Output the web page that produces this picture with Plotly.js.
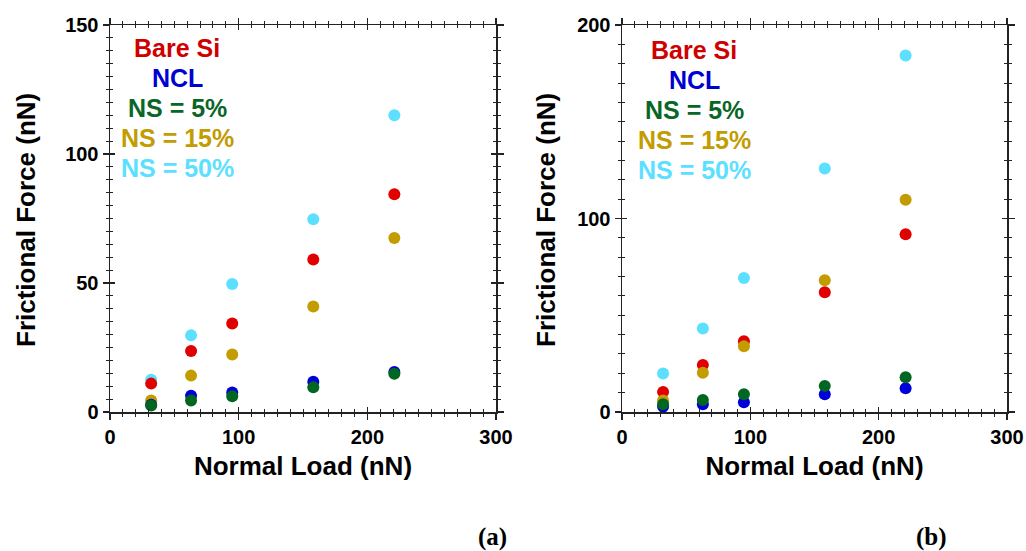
<!DOCTYPE html>
<html>
<head>
<meta charset="utf-8">
<script src="https://cdn.plot.ly/plotly-3.0.1.min.js"></script>
<style>html,body{margin:0;padding:0;background:#fff;}#chart{width:1026px;height:551px;}</style>
</head>
<body>
<div id="chart"></div>
<script>
// Normal load (nN)
const normalLoad = [32, 63, 95, 158, 221];

// Panel (a) frictional force (nN)
const aBareSi = [11.0, 23.6, 34.3, 59.1, 84.4];
const aNCL    = [2.8, 6.3, 7.6, 11.7, 15.5];
const aNS5    = [2.5, 4.5, 6.1, 9.6, 14.8];
const aNS15   = [4.5, 14.1, 22.3, 40.9, 67.4];
const aNS50   = [12.5, 29.7, 49.6, 74.7, 115.0];

// Panel (b) frictional force (nN)
const bBareSi = [10.4, 24.3, 36.6, 61.9, 91.9];
const bNCL    = [2.8, 4.0, 5.0, 9.2, 12.3];
const bNS5    = [4.0, 6.2, 9.2, 13.5, 18.0];
const bNS15   = [5.9, 20.3, 34.0, 68.1, 109.7];
const bNS50   = [19.9, 43.1, 69.3, 125.8, 184.2];

const seriesNames = ["Bare Si", "NCL", "NS = 5%", "NS = 15%", "NS = 50%"];
const markerColors = ["#e00000", "#0000d8", "#006622", "#c29c00", "#5ce0ff"];
const textColors   = ["#d00000", "#0000d0", "#0a6626", "#c29c00", "#5ce0ff"];
const panelLabels = ["(a)", "(b)"];
const xTitle = "Normal Load (nN)";
const yTitle = "Frictional Force (nN)";

const xTicks = [0, 100, 200, 300];
const aYTicks = [0, 50, 100, 150];
const bYTicks = [0, 100, 200];

const FONT = "Liberation Sans, Arial, sans-serif";

const aSeries = [aBareSi, aNCL, aNS5, aNS15, aNS50];
const bSeries = [bBareSi, bNCL, bNS5, bNS15, bNS50];
// draw order: cyan, red, gold, blue, green (green on top of blue)
const order = [4, 0, 3, 1, 2];

const traces = [];
order.forEach(i => {
  traces.push({x: normalLoad, y: aSeries[i], type: "scatter", mode: "markers", name: seriesNames[i],
    xaxis: "x", yaxis: "y", marker: {color: markerColors[i], size: 12}, showlegend: false});
});
order.forEach(i => {
  traces.push({x: normalLoad, y: bSeries[i], type: "scatter", mode: "markers", name: seriesNames[i],
    xaxis: "x2", yaxis: "y2", marker: {color: markerColors[i], size: 12}, showlegend: false});
});
// empty traces to anchor the overlay (inside tick) axes
traces.push({x: [], y: [], xaxis: "x3", yaxis: "y3", type: "scatter", showlegend: false, hoverinfo: "skip"});
traces.push({x: [], y: [], xaxis: "x4", yaxis: "y4", type: "scatter", showlegend: false, hoverinfo: "skip"});

const yDom = [1 - 412/551, 1 - 25/551];
const xDomA = [110/1026, 496/1026];
const xDomB = [622/1026, 1007/1026];

function mainX(domain, anchor) {
  return {
    domain: domain, anchor: anchor, range: [0, 300], tickvals: xTicks,
    ticks: "outside", ticklen: 6, tickwidth: 1.3, tickcolor: "#222",
    minor: {dtick: 10, tick0: 0, ticks: "outside", ticklen: 3, tickwidth: 1, tickcolor: "#222"},
    showline: true, linecolor: "#222", linewidth: 1.5, mirror: "allticks",
    showgrid: false, zeroline: false,
    tickfont: {family: FONT, size: 20, color: "#000", weight: 700},
    title: {text: xTitle, font: {family: FONT, size: 26, color: "#000", weight: 700}, standoff: 10}
  };
}
function mainY(domain, anchor, range, tickvals, minorDt) {
  return {
    domain: domain, anchor: anchor, range: range, tickvals: tickvals,
    ticks: "outside", ticklen: 6, tickwidth: 1.3, tickcolor: "#222",
    minor: {dtick: minorDt, tick0: 0, ticks: "outside", ticklen: 3, tickwidth: 1, tickcolor: "#222"},
    showline: true, linecolor: "#222", linewidth: 1.5, mirror: "allticks",
    showgrid: false, zeroline: false,
    tickfont: {family: FONT, size: 20, color: "#000", weight: 700}
  };
}
function overlayX(over, anchor) {
  return {overlaying: over, anchor: anchor, range: [0, 300], tickvals: xTicks,
    ticks: "inside", ticklen: 5, tickwidth: 1.3, tickcolor: "#222",
    minor: {dtick: 10, tick0: 0, ticks: "inside", ticklen: 3, tickwidth: 1, tickcolor: "#222"},
    showline: false, mirror: "allticks", showticklabels: false, showgrid: false, zeroline: false};
}
function overlayY(over, anchor, range, tickvals, minorDt) {
  return {overlaying: over, anchor: anchor, range: range, tickvals: tickvals,
    ticks: "inside", ticklen: 5, tickwidth: 1.3, tickcolor: "#222",
    minor: {dtick: minorDt, tick0: 0, ticks: "inside", ticklen: 3, tickwidth: 1, tickcolor: "#222"},
    showline: false, mirror: "allticks", showticklabels: false, showgrid: false, zeroline: false};
}

const annotations = [];
const rowsY = [48, 78, 108, 138, 168];
seriesNames.forEach((name, i) => {
  annotations.push({xref: "paper", yref: "paper", x: 177/1026, y: 1 - rowsY[i]/551,
    xanchor: "center", yanchor: "middle", showarrow: false, text: name,
    font: {family: FONT, size: 25, color: textColors[i], weight: 700}});
  annotations.push({xref: "paper", yref: "paper", x: 694/1026, y: 1 - (rowsY[i] + 2)/551,
    xanchor: "center", yanchor: "middle", showarrow: false, text: name,
    font: {family: FONT, size: 25, color: textColors[i], weight: 700}});
});
// y-axis titles
[26, 546].forEach(px => {
  annotations.push({xref: "paper", yref: "paper", x: px/1026, y: 1 - 220/551, xanchor: "center", yanchor: "middle",
    textangle: -90, showarrow: false, text: yTitle,
    font: {family: FONT, size: 26, color: "#000", weight: 700}});
});
annotations.push({xref: "paper", yref: "paper", x: 492/1026, y: 1 - 537/551, xanchor: "center", yanchor: "middle",
  showarrow: false, text: panelLabels[0], font: {family: "Liberation Serif, serif", size: 25, color: "#000", weight: 700}});
annotations.push({xref: "paper", yref: "paper", x: 931/1026, y: 1 - 537/551, xanchor: "center", yanchor: "middle",
  showarrow: false, text: panelLabels[1], font: {family: "Liberation Serif, serif", size: 25, color: "#000", weight: 700}});

const layout = {
  width: 1026, height: 551,
  margin: {l: 0, r: 0, t: 0, b: 0},
  paper_bgcolor: "#fff", plot_bgcolor: "#fff",
  showlegend: false,
  xaxis: mainX(xDomA, "y"),
  yaxis: mainY(yDom, "x", [0, 150], aYTicks, 5),
  xaxis2: mainX(xDomB, "y2"),
  yaxis2: mainY(yDom, "x2", [0, 200], bYTicks, 10),
  xaxis3: overlayX("x", "y3"),
  yaxis3: overlayY("y", "x3", [0, 150], aYTicks, 5),
  xaxis4: overlayX("x2", "y4"),
  yaxis4: overlayY("y2", "x4", [0, 200], bYTicks, 10),
  annotations: annotations
};

Plotly.newPlot("chart", traces, layout, {displayModeBar: false, staticPlot: true});
</script>
</body>
</html>
